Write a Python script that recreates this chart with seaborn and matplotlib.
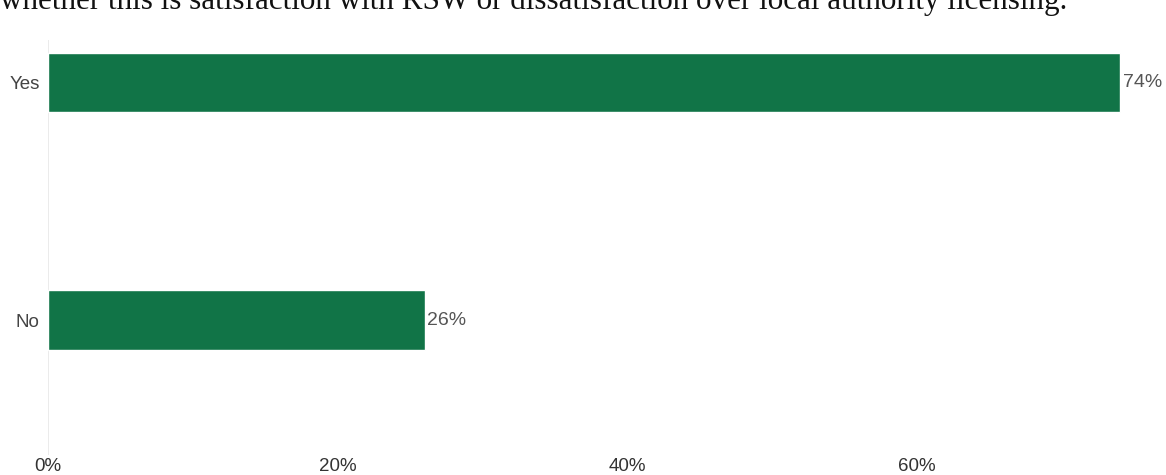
import matplotlib
matplotlib.use("Agg")
import matplotlib.pyplot as plt
import seaborn as sns
import pandas as pd

answers = ["Yes", "No"]
shares = [74, 26]
x_ticks = [0, 20, 40, 60]
x_tick_labels = ["0%", "20%", "40%", "60%"]
heading = "whether this is satisfaction with RSW or dissatisfaction over local authority licensing."

sns.set_theme(style="white")
plt.rcParams["font.family"] = ["Liberation Sans", "DejaVu Sans"]

df = pd.DataFrame({"answer": answers, "share": shares})

fig = plt.figure(figsize=(11.66, 4.75), dpi=100)
ax = fig.add_axes([48 / 1166, 1 - 455 / 475, (1166 - 48) / 1166, (455 - 40) / 475])

sns.barplot(data=df, x="share", y="answer", orient="h", color="#117447",
            width=0.25, saturation=1, ax=ax)

ax.set_xlim(0, 77.2)
ax.set_ylim(1.568, -0.179)
ax.set_xticks(x_ticks)
ax.set_xticklabels(x_tick_labels)
ax.set_xlabel("")
ax.set_ylabel("")
for s in ax.spines.values():
    s.set_visible(False)
ax.axvline(0, color="#e8e8e8", lw=1.2, zorder=0)
ax.tick_params(axis="x", length=0, pad=2, labelsize=13.5, labelcolor="#333333")
ax.tick_params(axis="y", length=0, pad=6, labelsize=13.5, labelcolor="#444444")

for i, v in enumerate(shares):
    ax.text(v + 0.2, i, f"{v}%", va="center", ha="left", fontsize=14, color="#555555")

fig.text(0, 1 - 9 / 475, heading, family=["Liberation Serif", "DejaVu Serif"],
         fontsize=22.4, color="#111111", ha="left", va="baseline")

fig.savefig("out.png", dpi=100)
